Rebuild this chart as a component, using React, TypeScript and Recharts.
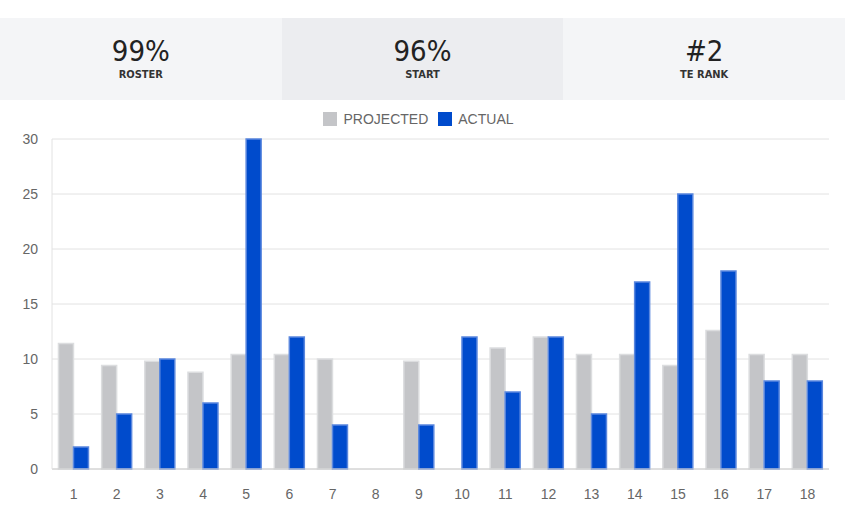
import { Bar, BarChart, CartesianGrid, Legend, XAxis, YAxis } from "recharts";

const weeks = ["1", "2", "3", "4", "5", "6", "7", "8", "9", "10", "11", "12", "13", "14", "15", "16", "17", "18"];
const projected = [11.4, 9.4, 9.8, 8.8, 10.4, 10.4, 10, 0, 9.8, 0, 11, 12, 10.4, 10.4, 9.4, 12.6, 10.4, 10.4];
const actual = [2, 5, 10, 6, 30, 12, 4, 0, 4, 12, 7, 12, 5, 17, 25, 18, 8, 8];
const yTicks = [0, 5, 10, 15, 20, 25, 30];

const stats = [
  { value: "99%", label: "ROSTER", bg: "#f4f5f7" },
  { value: "96%", label: "START", bg: "#ecedf0" },
  { value: "#2", label: "TE RANK", bg: "#f4f5f7" },
];

const GRAY = "#c4c5c8";
const BLUE = "#004bcc";
const TICK = "#666666";

const rows = weeks.map((w, i) => ({ week: w, PROJECTED: projected[i], ACTUAL: actual[i] }));

function LegendContent() {
  const items = [
    { name: "PROJECTED", color: GRAY },
    { name: "ACTUAL", color: BLUE },
  ];
  return (
    <div style={{ height: 29, display: "flex", justifyContent: "center", alignItems: "flex-start", gap: 10 }}>
      {items.map((it) => (
        <div key={it.name} style={{ display: "flex", alignItems: "center", height: 18, gap: 6 }}>
          <span style={{ width: 14, height: 14, background: it.color, display: "inline-block" }} />
          <span style={{ fontSize: 14, color: TICK, fontFamily: "'Liberation Sans', Arial, sans-serif" }}>{it.name}</span>
        </div>
      ))}
    </div>
  );
}

export default function App() {
  return (
    <div style={{ position: "fixed", left: 0, top: 0, width: 845, height: 521, background: "#fff", overflow: "hidden" }}>
      <div style={{ position: "absolute", top: 18, left: 0, width: 845, height: 82, display: "flex" }}>
        {stats.map((s) => (
          <div
            key={s.label}
            style={{
              flex: 1,
              background: s.bg,
              display: "flex",
              flexDirection: "column",
              alignItems: "center",
              justifyContent: "center",
              paddingBottom: 4,
              boxSizing: "border-box",
              fontFamily: "'DejaVu Sans Condensed', 'DejaVu Sans', sans-serif",
              fontStretch: "condensed",
              color: "#222",
            }}
          >
            <div style={{ fontSize: 29, lineHeight: "34px" }}>{s.value}</div>
            <div style={{ fontSize: 11, lineHeight: "13px", fontWeight: 600, color: "#333" }}>{s.label}</div>
          </div>
        ))}
      </div>
      <div style={{ position: "absolute", top: 100, left: 0 }}>
        <BarChart
          width={845}
          height={421}
          data={rows}
          margin={{ top: 10, right: 16, left: 8, bottom: 22 }}
          barCategoryGap="15%"
          barGap={0}
        >
          <CartesianGrid stroke="#e2e2e2" vertical={false} />
          <Legend verticalAlign="top" content={<LegendContent />} />
          <XAxis
            dataKey="week"
            tick={{ fill: TICK, fontSize: 14, fontFamily: "'Liberation Sans', Arial, sans-serif" }}
            tickLine={false}
            axisLine={{ stroke: "#cccccc" }}
            tickMargin={14}
            height={30}
          />
          <YAxis
            domain={[0, 30]}
            ticks={yTicks}
            tick={{ fill: TICK, fontSize: 14, fontFamily: "'Liberation Sans', Arial, sans-serif" }}
            tickLine={false}
            tickSize={0}
            tickMargin={14}
            axisLine={{ stroke: "#e2e2e2" }}
            width={44}
          />
          <Bar dataKey="PROJECTED" fill={GRAY} stroke="#dcdddf" strokeWidth={1.5} isAnimationActive={false} />
          <Bar dataKey="ACTUAL" fill={BLUE} stroke="#5a87de" strokeWidth={1.5} isAnimationActive={false} />
        </BarChart>
      </div>
    </div>
  );
}
